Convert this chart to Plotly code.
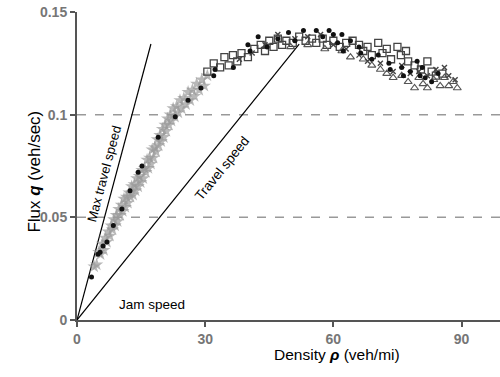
import plotly.graph_objects as go

# ---- data ----
gray_x = [4.0,4.6,5.1,5.5,5.9,6.3,6.6,7.0,7.3,7.7,8.0,8.3,8.6,8.9,9.2,9.5,9.8,10.1,10.4,10.7,
          11.0,11.3,11.6,11.9,12.2,12.5,12.8,13.1,13.4,13.7,14.0,14.3,14.6,14.9,15.2,15.5,15.8,16.1,16.4,16.7,
          17.0,17.3,17.6,17.9,18.2,18.5,18.8,19.1,19.4,19.7,20.0,20.3,20.6,20.9,21.2,21.5,21.8,22.1,22.5,22.9,
          23.3,23.7,24.1,24.5,25.0,25.5,26.0,26.5,27.0,27.5,28.0,28.6,29.2,29.8,30.5]
gray_y = [0.026,0.027,0.033,0.032,0.037,0.034,0.040,0.038,0.043,0.041,0.046,0.044,0.049,0.046,0.051,0.048,0.054,0.051,0.056,0.053,
          0.059,0.055,0.060,0.057,0.062,0.060,0.065,0.061,0.066,0.063,0.069,0.065,0.070,0.067,0.073,0.069,0.074,0.072,0.078,0.074,
          0.079,0.076,0.083,0.079,0.084,0.082,0.088,0.085,0.090,0.087,0.093,0.089,0.095,0.092,0.098,0.095,0.100,0.097,0.103,0.099,
          0.104,0.101,0.107,0.103,0.108,0.105,0.111,0.107,0.112,0.109,0.115,0.112,0.117,0.114,0.119]

dot_x = [3.4,4.9,5.4,6.1,7.0,8.5,10.5,12.4,14.3,15.2,19.0,23.0,26.0,29.0,32.0,32.3,
         36.6,40.0,40.5,42.4,44.5,47.0,49.5,51.0,53.0,56.0,57.5,59.0,60.0,61.0,62.0,62.3,
         64.0,66.0,66.4,69.0,70.5,73.0,73.3,76.0,76.4,78.0,79.6,80.3,80.8,81.5,83.0,84.5]
dot_y = [0.021,0.032,0.033,0.036,0.038,0.046,0.054,0.063,0.072,0.075,0.089,0.099,0.107,0.113,0.119,0.122,
         0.123,0.134,0.131,0.138,0.133,0.137,0.140,0.136,0.141,0.141,0.138,0.141,0.139,0.135,0.139,0.131,
         0.136,0.133,0.130,0.127,0.129,0.125,0.122,0.123,0.119,0.121,0.126,0.119,0.123,0.118,0.116,0.120]

sq_x = [30.5,32.0,33.5,34.5,35.5,36.5,37.5,38.5,40.0,41.5,43.0,44.0,45.0,46.0,47.0,48.0,49.0,50.5,52.0,53.5,
        55.0,56.0,57.5,58.5,60.0,61.5,63.0,64.5,66.0,67.0,68.0,69.0,70.5,71.5,72.5,73.5,75.0,75.8,77.0,77.5,
        79.0,80.5,82.0,83.0,84.0,85.5]
sq_y = [0.121,0.125,0.123,0.128,0.124,0.129,0.126,0.130,0.128,0.132,0.134,0.131,0.136,0.133,0.137,0.134,0.136,0.135,0.138,0.136,
        0.137,0.135,0.137,0.134,0.136,0.133,0.135,0.136,0.134,0.131,0.133,0.129,0.135,0.130,0.132,0.127,0.133,0.129,0.131,0.126,
        0.124,0.122,0.126,0.121,0.119,0.120]

tri_x = [50.0,54.0,58.0,62.0,64.0,67.0,69.0,71.0,72.5,74.0,76.0,77.5,79.0,80.0,81.0,82.0,83.5,85.0,86.0,87.0,88.0,89.0]
tri_y = [0.133,0.134,0.132,0.131,0.128,0.127,0.124,0.122,0.120,0.118,0.119,0.116,0.113,0.118,0.115,0.113,0.117,0.114,0.118,0.114,0.116,0.113]

xm_x = [38.0,41.0,44.0,47.0,51.0,54.0,57.0,60.0,63.0,66.0,68.0,71.0,74.0,76.0,78.0,80.0,82.0,84.0,86.0,87.0,88.5]
xm_y = [0.127,0.130,0.134,0.139,0.137,0.138,0.139,0.134,0.132,0.129,0.126,0.125,0.121,0.124,0.120,0.121,0.119,0.122,0.123,0.119,0.117]

max_line_x = [0, 17.3]
max_line_y = [0, 0.1344]
travel_line_x = [0, 52.0]
travel_line_y = [0, 0.1344]

x_ticks = [0, 30, 60, 90]
y_ticks = [0, 0.05, 0.1, 0.15]
y_tick_text = ["0", "0.05", "0.1", "0.15"]
grid_levels = [0.05, 0.1]

FONT = "Liberation Sans, Arial, sans-serif"

fig = go.Figure()

fig.add_trace(go.Scatter(x=max_line_x, y=max_line_y, mode="lines",
                         line=dict(color="black", width=1.2), hoverinfo="skip"))
fig.add_trace(go.Scatter(x=travel_line_x, y=travel_line_y, mode="lines",
                         line=dict(color="black", width=1.2), hoverinfo="skip"))

fig.add_trace(go.Scatter(x=gray_x, y=gray_y, mode="markers",
                         marker=dict(symbol="star", size=10, color="#9a9a9a", opacity=0.7,
                                     line=dict(width=0))))
fig.add_trace(go.Scatter(x=sq_x, y=sq_y, mode="markers",
                         marker=dict(symbol="square-open", size=7, color="#444444",
                                     line=dict(width=1.3))))
fig.add_trace(go.Scatter(x=tri_x, y=tri_y, mode="markers",
                         marker=dict(symbol="triangle-up-open", size=7, color="#555555",
                                     line=dict(width=1.1))))
fig.add_trace(go.Scatter(x=xm_x, y=xm_y, mode="markers",
                         marker=dict(symbol="x-thin-open", size=5, color="#444444",
                                     line=dict(width=1.4, color="#444444"))))
fig.add_trace(go.Scatter(x=dot_x, y=dot_y, mode="markers",
                         marker=dict(symbol="circle", size=5, color="#111111")))

for g in grid_levels:
    fig.add_shape(type="line", xref="paper", yref="y", x0=0, x1=1, y0=g, y1=g,
                  line=dict(color="#999999", width=1.5, dash="dash"), layer="below")

fig.add_annotation(x=6.3, y=0.0715, text="Max travel speed", showarrow=False,
                   textangle=-75, font=dict(family=FONT, size=13, color="black"))
fig.add_annotation(x=33.9, y=0.0740, text="Travel speed", showarrow=False,
                   textangle=-51, font=dict(family=FONT, size=13.5, color="black"))
fig.add_annotation(x=17.5, y=0.0076, text="Jam speed", showarrow=False,
                   font=dict(family=FONT, size=13.5, color="black"))

fig.add_annotation(xref="paper", yref="paper", x=-0.128, y=0.483,
                   text="Flux <b><i>q</i></b> (veh/sec)", showarrow=False, textangle=-90,
                   font=dict(family=FONT, size=17, color="black"))
fig.add_annotation(xref="paper", yref="paper", x=0.615, y=-0.147,
                   text="Density <b><i>ρ</i></b> (veh/mi)", showarrow=False,
                   font=dict(family=FONT, size=15.5, color="black"))

tick_font = dict(family=FONT, size=14, color="#767676", weight="bold")
fig.update_layout(
    width=500, height=377,
    margin=dict(l=77, r=0, t=12, b=57),
    paper_bgcolor="white", plot_bgcolor="white",
    showlegend=False,
    xaxis=dict(range=[0, 99], tickvals=x_ticks, showgrid=False, zeroline=False,
               showline=True, linecolor="#555555", linewidth=2,
               ticks="outside", ticklen=5, tickwidth=2, tickcolor="#555555",
               tickfont=tick_font),
    yaxis=dict(range=[0, 0.15], tickvals=y_ticks, ticktext=y_tick_text, showgrid=False,
               zeroline=False, showline=True, linecolor="#555555", linewidth=2,
               ticks="outside", ticklen=5, tickwidth=2, tickcolor="#555555",
               tickfont=tick_font),
)

fig.write_html("out.html")
